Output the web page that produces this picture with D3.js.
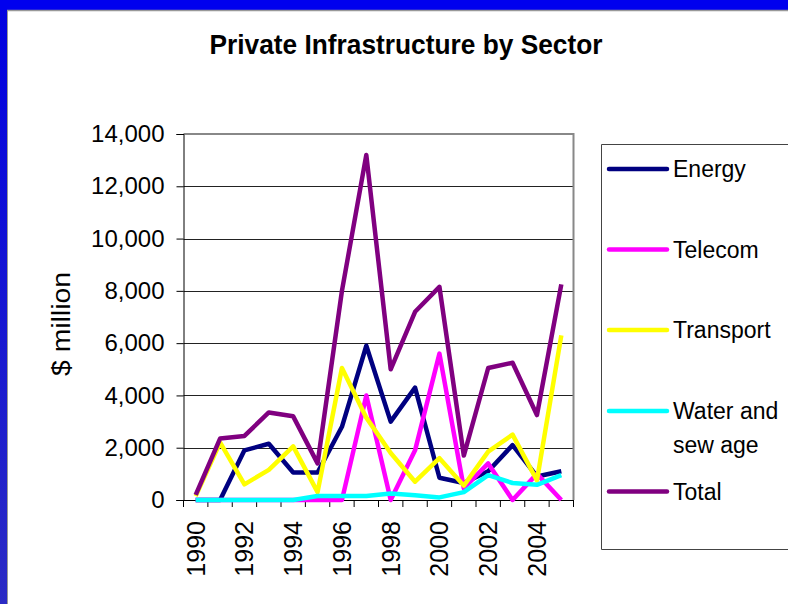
<!DOCTYPE html>
<html><head><meta charset="utf-8">
<script src="https://cdn.jsdelivr.net/npm/d3@7"></script>
<style>html,body{margin:0;padding:0;background:#fff;}svg{display:block;}</style>
</head><body>
<svg id="c" width="788" height="604"></svg>
<script>
const years = [1990,1991,1992,1993,1994,1995,1996,1997,1998,1999,2000,2001,2002,2003,2004,2005];
const yearLabels = ["1990","1992","1994","1996","1998","2000","2002","2004"];
const yTicks = [0,2000,4000,6000,8000,10000,12000,14000];
const energy    = [0,0,1900,2150,1050,1050,2800,5900,3000,4300,850,650,1100,2100,900,1100];
const telecom   = [0,0,0,0,0,0,0,4000,0,1900,5600,450,1400,0,1000,0];
const transport = [150,2200,600,1150,2050,300,5050,3150,1800,700,1600,550,1850,2500,750,6300];
const water     = [0,0,0,0,0,150,150,150,250,180,100,300,950,650,580,950];
const total     = [200,2350,2450,3350,3200,1400,8000,13200,5000,7200,8150,1700,5050,5250,3250,8250];
const seriesNames = ["Energy","Telecom","Transport","Water and|sew age","Total"];
const seriesColors = ["#000080","#FF00FF","#FFFF00","#00FFFF","#800080"];
const seriesData = [energy, telecom, transport, water, total];

const svg = d3.select("#c");
const defs = svg.append("defs");
const lg = defs.append("linearGradient").attr("id","lb").attr("x1",0).attr("y1",0).attr("x2",0).attr("y2",1);
lg.append("stop").attr("offset","0%").attr("stop-color","#0000E0");
lg.append("stop").attr("offset","100%").attr("stop-color","#2B2BC4");

// frame
svg.append("rect").attr("x",0).attr("y",0).attr("width",788).attr("height",604).attr("fill","url(#lb)");
svg.append("rect").attr("x",0).attr("y",0).attr("width",788).attr("height",10).attr("fill","#0000EE");
svg.append("rect").attr("x",7).attr("y",10).attr("width",781).attr("height",594).attr("fill","#fff");
svg.append("line").attr("x1",7).attr("x2",788).attr("y1",10.5).attr("y2",10.5).attr("stroke","#999").attr("stroke-width",1.5);
svg.append("line").attr("x1",7.5).attr("x2",7.5).attr("y1",10).attr("y2",604).attr("stroke","#999").attr("stroke-width",1);

const font = "Liberation Sans, Arial, sans-serif";
svg.append("text").attr("x",406).attr("y",54).attr("text-anchor","middle")
  .attr("font-family",font).attr("font-weight","bold").attr("font-size",28)
  .attr("textLength",393).attr("lengthAdjust","spacingAndGlyphs")
  .text("Private Infrastructure by Sector");

const x0 = 183.5, x1 = 573.5, yTop = 134, yBot = 500;
const xb = d3.scaleBand().domain(years).range([x0,x1]).padding(0);
const xc = d => xb(d) + xb.bandwidth()/2;
const y = d3.scaleLinear().domain([0,14000]).range([yBot,yTop]);

// gridlines
svg.append("g").selectAll("line").data(yTicks.filter(d=>d>0 && d<14000)).join("line")
  .attr("x1",x0).attr("x2",x1).attr("y1",d=>Math.round(y(d))+0.5).attr("y2",d=>Math.round(y(d))+0.5)
  .attr("stroke","#222").attr("stroke-width",1);
// plot border top/right
svg.append("path").attr("d",`M${x0},${yTop}H${x1}V${yBot}`).attr("fill","none").attr("stroke","#888").attr("stroke-width",2);

// y axis
const yAxis = d3.axisLeft(y).tickValues(yTicks).tickSize(7).tickPadding(12).tickFormat(d3.format(","));
const gy = svg.append("g").attr("transform",`translate(${x0},0)`).call(yAxis);
gy.select(".domain").attr("stroke","#000");
gy.selectAll(".tick line").attr("stroke","#000");
gy.selectAll("text").attr("font-family",font).attr("font-size",24).attr("fill","#000");

// x axis
const xAxis = d3.axisBottom(xb).tickSize(0).tickFormat("");
const gx = svg.append("g").attr("transform",`translate(0,${yBot})`).call(xAxis);
gx.select(".domain").attr("d",`M${x0-7},0.5H${x1}`).attr("stroke","#000");
gx.selectAll(".tick").remove();
svg.append("g").selectAll("line").data(years.concat(["end"])).join("line")
  .attr("x1",d=> d==="end" ? x1 : xb(d)).attr("x2",d=> d==="end" ? x1 : xb(d))
  .attr("y1",yBot).attr("y2",yBot+7).attr("stroke","#000").attr("stroke-width",1);
svg.append("g").selectAll("text").data(yearLabels).join("text")
  .attr("transform",d=>`translate(${xc(+d)+9},521) rotate(-90)`)
  .attr("text-anchor","end").attr("font-family",font).attr("font-size",25)
  .text(d=>d);

// y title
svg.append("text").attr("transform","translate(70,324) rotate(-90)").attr("text-anchor","middle")
  .attr("font-family",font).attr("font-size",25)
  .attr("textLength",104).attr("lengthAdjust","spacingAndGlyphs").text("$ million");

// lines
const line = d3.line().x((d,i)=>xc(years[i])).y(d=>y(d));
seriesData.forEach((s,i)=>{
  svg.append("path").datum(s).attr("d",line).attr("fill","none")
    .attr("stroke",seriesColors[i]).attr("stroke-width",4.5).attr("stroke-linejoin","round");
});

// legend
svg.append("path").attr("d","M788,144.5H601.5V549.5H788").attr("fill","none").attr("stroke","#444").attr("stroke-width",1);
const legY = [169,249.5,330,411,491.5];
seriesNames.forEach((n,i)=>{
  svg.append("line").attr("x1",609).attr("x2",667).attr("y1",legY[i]).attr("y2",legY[i])
    .attr("stroke",seriesColors[i]).attr("stroke-width",4.5).attr("stroke-linecap","round");
  const parts = n.split("|");
  parts.forEach((p,j)=>{
    svg.append("text").attr("x",673).attr("y",legY[i]+8+j*34).attr("font-family",font).attr("font-size",23).text(p);
  });
});
</script>
</body></html>
